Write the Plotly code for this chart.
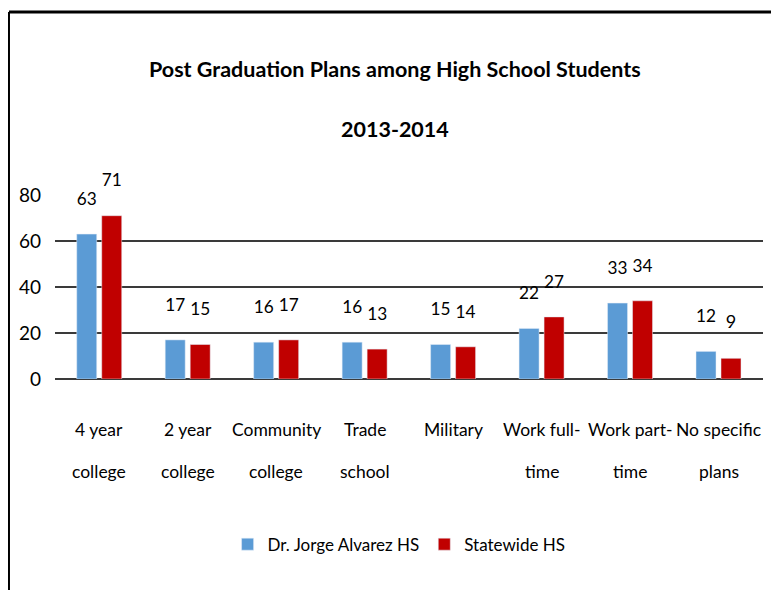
import plotly.graph_objects as go

categories = ["4 year college", "2 year college", "Community college", "Trade school",
              "Military", "Work full-time", "Work part-time", "No specific plans"]
label_line1 = ["4 year", "2 year", "Community", "Trade", "Military", "Work full-", "Work part-", "No specific"]
label_line2 = ["college", "college", "college", "school", "", "time", "time", "plans"]
alvarez = [63, 17, 16, 16, 15, 22, 33, 12]
statewide = [71, 15, 17, 13, 14, 27, 34, 9]
y_ticks = [0, 20, 40, 60, 80]

FONT = "Lato, Roboto, sans-serif"
LBL = 18

def labels(vals):
    return [f"{v}<br>\u00a0" for v in vals]

fig = go.Figure()
fig.add_trace(go.Bar(x=categories, y=alvarez, name="Dr. Jorge Alvarez HS",
                     marker=dict(color="#5B9BD5"), text=labels(alvarez), textposition="outside",
                     textfont=dict(size=LBL, color="black", family=FONT), cliponaxis=False))
fig.add_trace(go.Bar(x=categories, y=statewide, name="Statewide HS",
                     marker=dict(color="#C00000"), text=labels(statewide), textposition="outside",
                     textfont=dict(size=LBL, color="black", family=FONT), cliponaxis=False))

ann = []
for c, l1, l2 in zip(categories, label_line1, label_line2):
    ann.append(dict(x=c, y=-0.272, xref="x", yref="paper", text=l1, showarrow=False,
                    xanchor="center", yanchor="middle",
                    font=dict(size=17.5, family=FONT, color="black")))
    if l2:
        ann.append(dict(x=c, y=-0.500, xref="x", yref="paper", text=l2, showarrow=False,
                        xanchor="center", yanchor="middle",
                        font=dict(size=17.5, family=FONT, color="black")))
ann.append(dict(x=0.480, y=1.685, xref="paper", yref="paper", xanchor="center", yanchor="middle",
                text="<b>Post Graduation Plans among High School Students</b>", showarrow=False,
                font=dict(size=21.5, family=FONT, color="black")))
ann.append(dict(x=0.480, y=1.360, xref="paper", yref="paper", xanchor="center", yanchor="middle",
                text="<b>2013-2014</b>", showarrow=False,
                font=dict(size=21.5, family=FONT, color="black")))

fig.update_layout(
    width=771, height=582,
    margin=dict(l=47, r=16, t=187, b=211),
    paper_bgcolor="white", plot_bgcolor="white",
    barmode="group", bargap=0.435, bargroupgap=0.2,
    font=dict(family=FONT, size=18, color="black"),
    showlegend=True,
    legend=dict(orientation="h", x=0.486, xanchor="center", y=-0.90, yanchor="middle",
                font=dict(size=17, family=FONT), traceorder="normal", itemwidth=30),
    annotations=ann,
    shapes=[
        dict(type="line", xref="paper", yref="paper", x0=-0.065, x1=-0.065, y0=-1.3, y1=1.995,
             line=dict(color="black", width=2)),
        dict(type="line", xref="paper", yref="paper", x0=-0.065, x1=1.05, y0=1.995, y1=1.995,
             line=dict(color="black", width=3)),
    ],
)
fig.update_xaxes(showticklabels=False, showline=False, showgrid=False, zeroline=False)
fig.update_yaxes(range=[0, 80], tickvals=y_ticks, showgrid=True, gridcolor="#3a3a3a", gridwidth=1.5,
                 zeroline=True, zerolinecolor="#3a3a3a", zerolinewidth=1.5, showline=False,
                 tickfont=dict(size=19, family=FONT), ticks="", ticklabelstandoff=13)

fig.write_html("out.html")
